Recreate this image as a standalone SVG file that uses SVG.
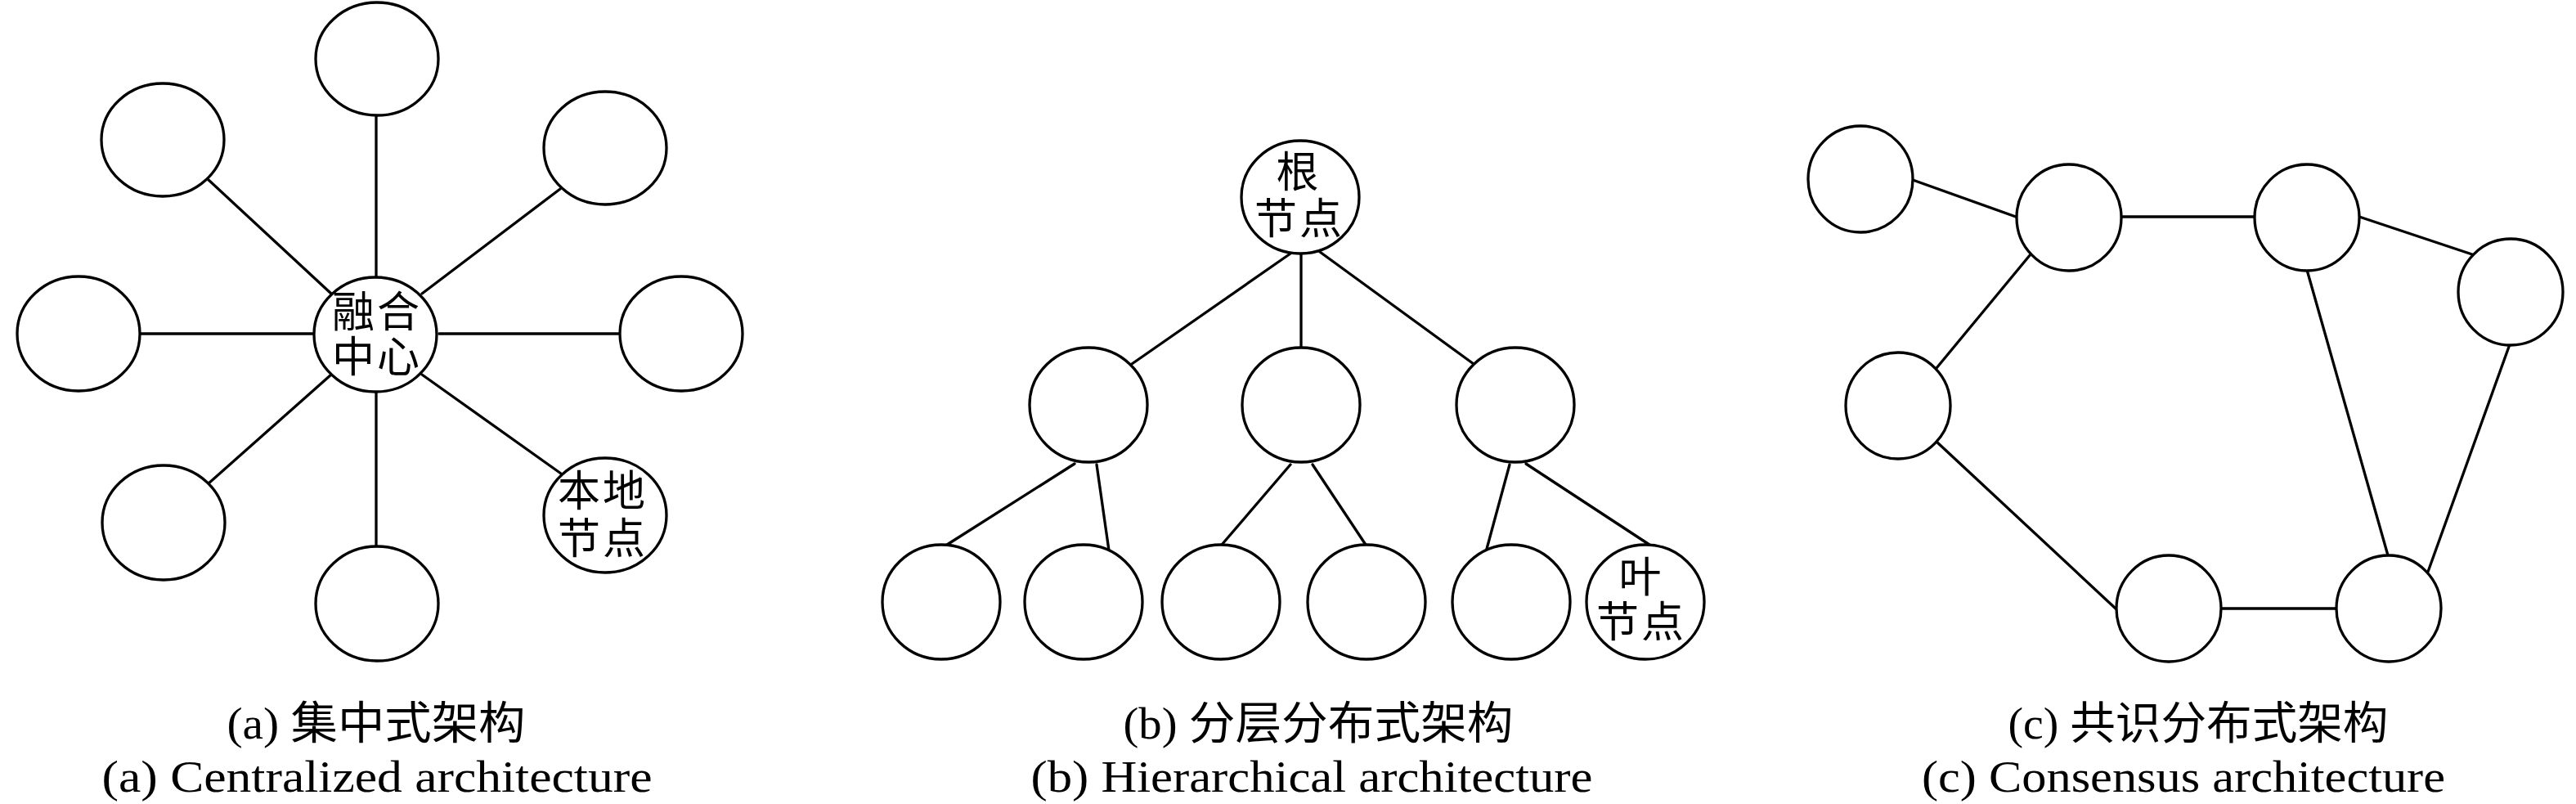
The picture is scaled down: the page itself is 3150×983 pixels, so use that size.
<svg xmlns="http://www.w3.org/2000/svg" width="3150" height="983" viewBox="0 0 3150 983">
<style>
.n{fill:#fff;stroke:#000;stroke-width:3.3}
.e line{stroke:#000;stroke-width:3.3;stroke-linecap:round}
.t{font-family:"Noto Sans CJK SC","Liberation Serif",sans-serif;font-size:52px;letter-spacing:3px;text-anchor:middle;fill:#000}
.c{font-family:"Liberation Serif","Noto Sans CJK SC",serif;font-size:55px;text-anchor:middle;fill:#000}
</style>
<rect width="3150" height="983" fill="#fff"/>
<g id="connectors" class="e">
<!-- (a) -->
<line x1="460" y1="139" x2="460" y2="338"/>
<line x1="255" y1="220" x2="405" y2="359"/>
<line x1="685" y1="231" x2="516" y2="359"/>
<line x1="172" y1="408" x2="383" y2="408"/>
<line x1="537" y1="408" x2="758" y2="408"/>
<line x1="405" y1="458" x2="255" y2="591"/>
<line x1="460" y1="478" x2="460" y2="668"/>
<line x1="516" y1="458" x2="686" y2="579"/>
<!-- (b) -->
<line x1="1578" y1="310" x2="1384" y2="445"/>
<line x1="1591" y1="310" x2="1591" y2="424"/>
<line x1="1614" y1="308" x2="1802" y2="445"/>
<line x1="1314" y1="567" x2="1158" y2="666"/>
<line x1="1341" y1="568" x2="1356" y2="673"/>
<line x1="1578" y1="568" x2="1494" y2="666"/>
<line x1="1605" y1="568" x2="1670" y2="666"/>
<line x1="1846" y1="568" x2="1818" y2="671"/>
<line x1="1866" y1="567" x2="2017" y2="666"/>
<!-- (c) -->
<line x1="2339" y1="220" x2="2465" y2="265"/>
<line x1="2594" y1="265" x2="2756" y2="265"/>
<line x1="2885" y1="265" x2="3023" y2="311"/>
<line x1="2483" y1="311" x2="2368" y2="450"/>
<line x1="2821" y1="330" x2="2920" y2="679"/>
<line x1="3069" y1="421" x2="2969" y2="699"/>
<line x1="2368" y1="540" x2="2587" y2="744"/>
<line x1="2717" y1="744" x2="2856" y2="744"/>
</g>
<!-- (a) nodes -->
<g id="a-center"><ellipse class="n" cx="459" cy="409" rx="75" ry="70"/><text class="t"><tspan x="461" y="400">融合</tspan><tspan x="461" y="455">中心</tspan></text></g>
<g id="a-top"><ellipse class="n" cx="461" cy="72" rx="75" ry="69"/></g>
<g id="a-upper-left"><ellipse class="n" cx="199" cy="171" rx="75" ry="69"/></g>
<g id="a-upper-right"><ellipse class="n" cx="740" cy="181" rx="75" ry="69"/></g>
<g id="a-left"><ellipse class="n" cx="96" cy="408" rx="75" ry="70"/></g>
<g id="a-right"><ellipse class="n" cx="833" cy="408" rx="75" ry="70"/></g>
<g id="a-lower-left"><ellipse class="n" cx="200" cy="639" rx="75" ry="70"/></g>
<g id="a-bottom"><ellipse class="n" cx="461" cy="738" rx="75" ry="70"/></g>
<g id="a-local"><ellipse class="n" cx="740" cy="630" rx="75" ry="70"/><text class="t"><tspan x="737" y="619">本地</tspan><tspan x="737" y="677">节点</tspan></text></g>
<!-- (b) nodes -->
<g id="b-root"><ellipse class="n" cx="1590" cy="241" rx="72" ry="69"/><text class="t"><tspan x="1588" y="229">根</tspan><tspan x="1589" y="286">节点</tspan></text></g>
<g id="b-mid-1"><ellipse class="n" cx="1331" cy="495" rx="72" ry="70"/></g>
<g id="b-mid-2"><ellipse class="n" cx="1591" cy="495" rx="72" ry="70"/></g>
<g id="b-mid-3"><ellipse class="n" cx="1853" cy="495" rx="72" ry="70"/></g>
<g id="b-leaf-1"><ellipse class="n" cx="1151" cy="736" rx="72" ry="70"/></g>
<g id="b-leaf-2"><ellipse class="n" cx="1325" cy="736" rx="72" ry="70"/></g>
<g id="b-leaf-3"><ellipse class="n" cx="1493" cy="736" rx="72" ry="70"/></g>
<g id="b-leaf-4"><ellipse class="n" cx="1671" cy="736" rx="72" ry="70"/></g>
<g id="b-leaf-5"><ellipse class="n" cx="1848" cy="736" rx="72" ry="70"/></g>
<g id="b-leaf-6"><ellipse class="n" cx="2012" cy="736" rx="72" ry="70"/><text class="t"><tspan x="2007" y="724">叶</tspan><tspan x="2007" y="779">节点</tspan></text></g>
<!-- (c) nodes -->
<g id="c-1"><ellipse class="n" cx="2275" cy="219" rx="64" ry="65"/></g>
<g id="c-2"><ellipse class="n" cx="2530" cy="266" rx="64" ry="65"/></g>
<g id="c-3"><ellipse class="n" cx="2821" cy="266" rx="64" ry="65"/></g>
<g id="c-4"><ellipse class="n" cx="3070" cy="357" rx="64" ry="65"/></g>
<g id="c-5"><ellipse class="n" cx="2321" cy="496" rx="64" ry="65"/></g>
<g id="c-6"><ellipse class="n" cx="2652" cy="744" rx="64" ry="65"/></g>
<g id="c-7"><ellipse class="n" cx="2921" cy="744" rx="64" ry="65"/></g>
<!-- captions -->
<g id="captions">
<text class="c" x="460" y="903" textLength="365" lengthAdjust="spacingAndGlyphs">(a) 集中式架构</text>
<text class="c" x="461" y="968" textLength="673" lengthAdjust="spacingAndGlyphs">(a) Centralized architecture</text>
<text class="c" x="1612" y="903" textLength="477" lengthAdjust="spacingAndGlyphs">(b) 分层分布式架构</text>
<text class="c" x="1604" y="968" textLength="687" lengthAdjust="spacingAndGlyphs">(b) Hierarchical architecture</text>
<text class="c" x="2688" y="903" textLength="465" lengthAdjust="spacingAndGlyphs">(c) 共识分布式架构</text>
<text class="c" x="2670" y="968" textLength="640" lengthAdjust="spacingAndGlyphs">(c) Consensus architecture</text>
</g>
</svg>
